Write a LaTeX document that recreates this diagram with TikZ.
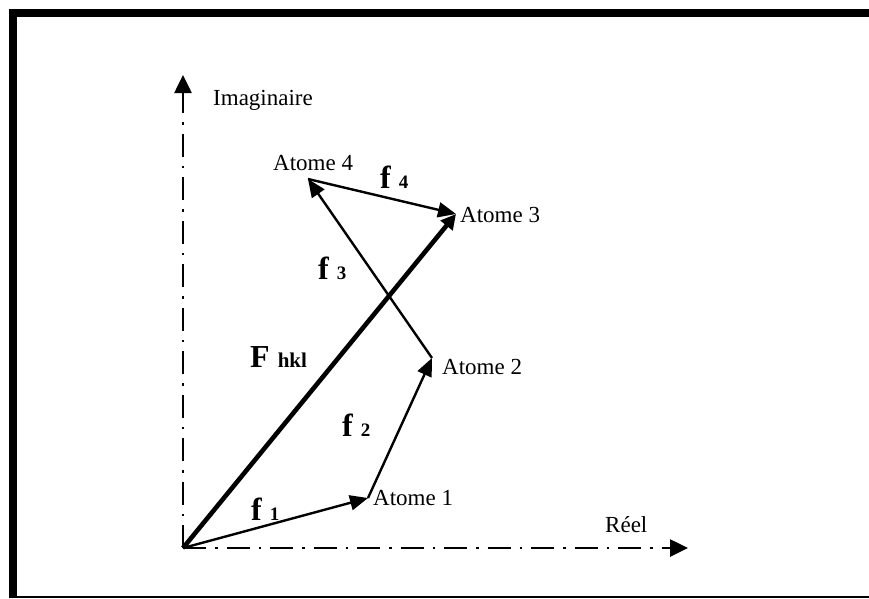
\documentclass[tikz,border=0pt]{standalone}
\usepackage{fontspec}
\setmainfont{Liberation Serif}
\usetikzlibrary{arrows.meta}
\newcommand{\bigf}{\fontsize{32}{36}\selectfont\bfseries}
\newcommand{\smallf}{\fontsize{19}{22}\selectfont\bfseries}
\begin{document}
\begin{tikzpicture}[x=1pt,y=-1pt,
  axisline/.style={line width=2.6pt, dash pattern=on 23pt off 9pt on 2.5pt off 9pt,
    -{Triangle[length=18pt,width=17pt]}},
  vec/.style={line width=2.4pt, -{Triangle[length=18pt,width=15pt]}},
  bigvec/.style={line width=4.6pt, -{Triangle[length=15pt,width=15pt]}},
  lbl/.style={font=\fontsize{23}{27}\selectfont, inner sep=0pt, anchor=base west},
  vlbl/.style={inner sep=0pt, anchor=base west}]
\useasboundingbox (0,0) rectangle (869,598);
% frame
\fill (9,9) rectangle (869,17);
\fill (9,9) rectangle (17,598);
\draw[line width=1.5pt] (9,597) -- (869,597);
% points
\coordinate (O) at (183,548);
\coordinate (yend) at (183,75);
\coordinate (xend) at (688,548);
\coordinate (A1) at (368,498);
\coordinate (A2) at (432,358);
\coordinate (A3) at (456,214);
\coordinate (A4) at (308,179);
% axes
\draw[axisline] (O) -- (yend);
\draw[axisline] (O) -- (xend);
% vectors
\draw[vec] (O) -- (A1);
\draw[vec] (A1) -- (A2);
\draw[vec] (A2) -- (A4);
\draw[vec] (A4) -- (A3);
\draw[bigvec] (O) -- (A3);
% labels
\node[lbl] (im) at (213,105) {Imaginaire};
\node[lbl] (re) at (605,532) {Réel};
\node[lbl] (t1) at (373,505) {Atome 1};
\node[lbl] (t2) at (442,374) {Atome 2};
\node[lbl] (t3) at (460,222) {Atome 3};
\node[lbl] (t4) at (273,170) {Atome 4};
\node[vlbl] (f1) at (251,520) {{\bigf f}\hspace{8pt}{\smallf 1}};
\node[vlbl] (f2) at (342,436) {{\bigf f}\hspace{8pt}{\smallf 2}};
\node[vlbl] (f3) at (318,279) {{\bigf f}\hspace{8pt}{\smallf 3}};
\node[vlbl] (f4) at (380,188) {{\bigf f}\hspace{8pt}{\smallf 4}};
\node[vlbl] (F) at (250,367) {{\bigf F}\hspace{8pt}{\fontsize{21}{24}\selectfont\bfseries hkl}};
\end{tikzpicture}
\end{document}
